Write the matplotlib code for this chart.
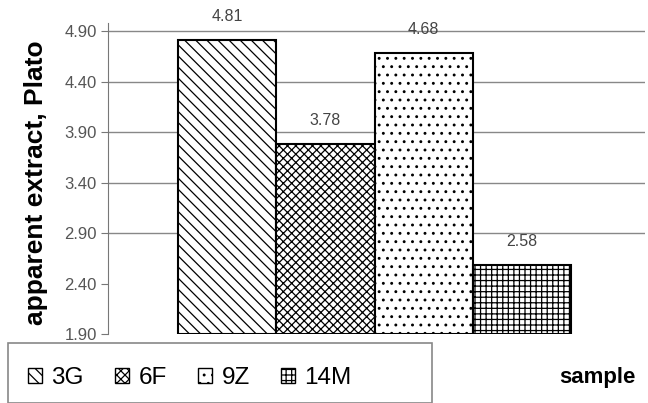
import matplotlib
matplotlib.use("Agg")
import matplotlib.pyplot as plt
from matplotlib.patches import Rectangle, Patch

plt.rcParams['font.family'] = ['Liberation Sans', 'DejaVu Sans']
plt.rcParams['hatch.linewidth'] = 0.9

samples = ["3G", "6F", "9Z", "14M"]
values = [4.81, 3.78, 4.68, 2.58]
hatches = ["\\\\\\", "xxxx", "..", "+++"]
yticks = [1.90, 2.40, 2.90, 3.40, 3.90, 4.40, 4.90]
gridvals = [2.90, 3.40, 3.90, 4.40, 4.90]

W, H = 648, 403
fig = plt.figure(figsize=(W / 100, H / 100), dpi=100)
ax = fig.add_axes([108 / W, 1 - 334 / H, (645 - 108) / W, (334 - 23) / H])

xs = list(range(len(samples)))
for x, v, h in zip(xs, values, hatches):
    ax.bar(x, v - 1.90, bottom=1.90, width=1.0, facecolor="white",
           edgecolor="black", linewidth=1.5, hatch=h, zorder=3)
    ax.text(x, v + 0.16, f"{v:.2f}", ha="center", va="bottom",
            fontsize=11.5, color="#444444")

for g in gridvals:
    ax.axhline(g, color="#888888", linewidth=1.0, zorder=1)

ax.set_xlim(-1.21, 4.25)
ax.set_ylim(1.90, 4.98)
ax.set_yticks(yticks)
ax.set_yticklabels([f"{t:.2f}" for t in yticks], fontsize=12, color="#555555")
ax.set_xticks([])
ax.tick_params(axis="y", length=5, color="#777777", pad=3)
for s in ["top", "right", "bottom"]:
    ax.spines[s].set_visible(False)
ax.spines["left"].set_color("#777777")
ax.spines["left"].set_zorder(4)

fig.text(36 / W, 1 - 183 / H, "apparent extract, Plato", rotation=90,
         ha="center", va="center", fontsize=19, fontweight="bold")

fig.text(597 / W, 1 - 378 / H, "sample", ha="center", va="center",
         fontsize=16, fontweight="bold")

fig.patches.append(Rectangle((8 / W, 0), (432 - 8) / W, 1 - 343 / H,
                             transform=fig.transFigure, fill=False,
                             edgecolor="#888888", linewidth=1.2))

handles = [Patch(facecolor="white", edgecolor="black", hatch=h, linewidth=1.0)
           for h in hatches]
fig.legend(handles, samples, loc="center left",
           bbox_to_anchor=(16 / W, 1 - 378 / H), ncol=4, frameon=False,
           fontsize=17.5, handlelength=0.55, handleheight=0.55,
           handletextpad=0.4, columnspacing=1.3, borderpad=0.0)

fig.savefig("out.png", dpi=100)
